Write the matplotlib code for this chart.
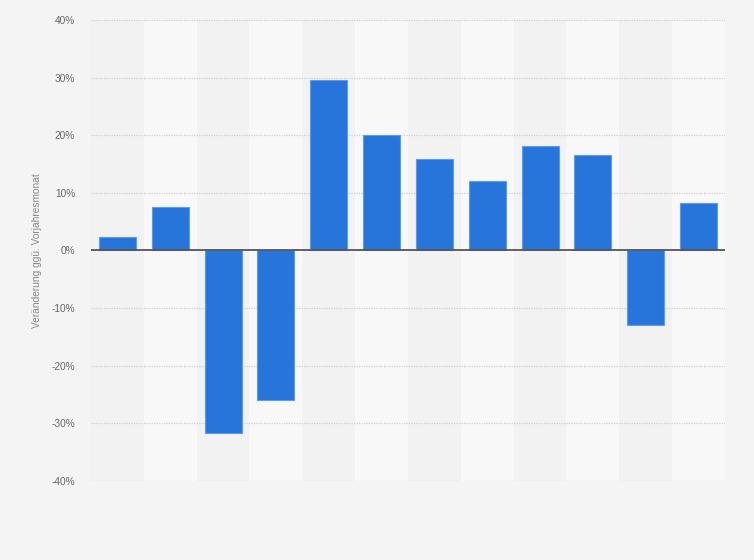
import matplotlib
matplotlib.use("Agg")
import matplotlib.pyplot as plt
import numpy as np
from matplotlib.ticker import FuncFormatter

# monthly change vs. same month of previous year, in percent
MONTHS = list(range(1, 13))
CHANGE_PCT = [2.4, 7.5, -31.6, -25.9, 29.5, 20.1, 15.8, 12.1, 18.2, 16.5, -13.0, 8.3]
Y_TICKS = [-40, -30, -20, -10, 0, 10, 20, 30, 40]
Y_LABEL = "Veränderung ggü. Vorjahresmonat"

BG = "#f4f4f4"
BAND_DARK = "#f2f2f2"
BAND_LIGHT = "#f8f8f8"
BAR_FILL = "#2775db"
BAR_EDGE = "#5f9cec"


def main() -> None:
    plt.rcParams["font.family"] = ["Liberation Sans", "DejaVu Sans"]

    fig = plt.figure(figsize=(7.54, 5.6), dpi=100, facecolor=BG)
    ax = fig.add_axes([0.1207, 0.1411, 0.8408, 0.8232])
    ax.set_facecolor(BG)

    x = np.arange(len(MONTHS))
    for i in x:
        ax.axvspan(i - 0.5, i + 0.5, color=BAND_DARK if i % 2 == 0 else BAND_LIGHT,
                   lw=0, zorder=0)

    for t in Y_TICKS:
        if t != 0:
            ax.axhline(t, color="#cfcfcf", lw=0.9, ls=(0, (1, 1)), zorder=1)

    ax.bar(x, CHANGE_PCT, 0.7, color=BAR_FILL, edgecolor=BAR_EDGE, linewidth=0.8, zorder=3)
    ax.axhline(0, color="#555555", lw=1.3, zorder=4)

    ax.set_xlim(-0.5, len(MONTHS) - 0.5)
    ax.set_ylim(-40, 40)
    ax.set_yticks(Y_TICKS)
    ax.yaxis.set_major_formatter(FuncFormatter(lambda v, _: f"{v:.0f}%".replace("−", "-")))
    ax.set_xticks([])
    ax.tick_params(axis="y", length=0, pad=11.5, labelsize=7.3, labelcolor="#666666")
    for spine in ax.spines.values():
        spine.set_visible(False)

    ax.set_ylabel(Y_LABEL, fontsize=7.3, color="#888888", labelpad=7)

    fig.savefig("out.png", dpi=100, facecolor=BG)
    plt.close(fig)


if __name__ == "__main__":
    main()
